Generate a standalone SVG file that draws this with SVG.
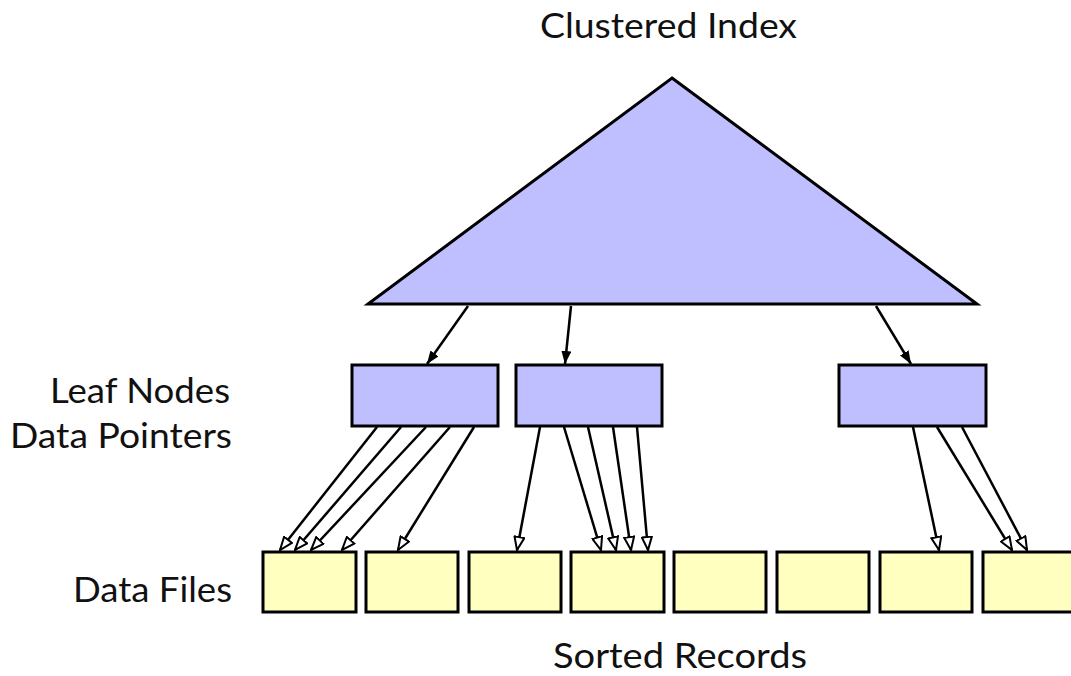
<svg xmlns="http://www.w3.org/2000/svg" width="1071" height="676" viewBox="0 0 1071 676">
  <style>
    .lbl { font-family: Lato, "Open Sans", "Liberation Sans", sans-serif; font-size: 34px; fill: #111; }
    .idx { fill: #bfbfff; stroke: #000; stroke-width: 3; stroke-linejoin: miter; }
    .leaf { fill: #bfbfff; stroke: #000; stroke-width: 3; }
    .data { fill: #ffffc0; stroke: #000; stroke-width: 3; }
    .ptr { stroke: #000; stroke-width: 2.5; fill: none; }
    .ptr-solid { marker-end: url(#solidHead); }
    .ptr-open { marker-end: url(#openHead); }
  </style>
  <defs>
    <marker id="solidHead" viewBox="0 0 13 10" refX="13" refY="5" markerWidth="13" markerHeight="10" markerUnits="userSpaceOnUse" orient="auto">
      <path d="M0,0 L13,5 L0,10 Z" fill="#000"/>
    </marker>
    <marker id="openHead" viewBox="0 0 15 12" refX="14" refY="6" markerWidth="15" markerHeight="12" markerUnits="userSpaceOnUse" orient="auto">
      <path d="M1,1 L14,6 L1,11 Z" fill="#fff" stroke="#000" stroke-width="2" stroke-linejoin="miter"/>
    </marker>
  </defs>

  <rect width="1071" height="676" fill="#fff"/>

  <!-- labels -->
  <text class="lbl" x="540" y="38" textLength="257" lengthAdjust="spacingAndGlyphs">Clustered Index</text>
  <text class="lbl" x="50" y="403" textLength="180" lengthAdjust="spacingAndGlyphs">Leaf Nodes</text>
  <text class="lbl" x="10" y="448" textLength="222" lengthAdjust="spacingAndGlyphs">Data Pointers</text>
  <text class="lbl" x="73" y="602" textLength="159" lengthAdjust="spacingAndGlyphs">Data Files</text>
  <text class="lbl" x="553" y="668" textLength="254" lengthAdjust="spacingAndGlyphs">Sorted Records</text>

  <!-- index tree -->
  <g id="clustered-index">
    <polygon class="idx" points="672,78 977,304 368,304"/>
  </g>

  <!-- leaf nodes -->
  <g id="leaf-1"><rect class="leaf" x="352" y="365" width="146" height="61"/></g>
  <g id="leaf-2"><rect class="leaf" x="516" y="365" width="146" height="61"/></g>
  <g id="leaf-3"><rect class="leaf" x="839" y="365" width="147" height="61"/></g>

  <!-- data files -->
  <g id="file-1"><rect class="data" x="263" y="552" width="93" height="60"/></g>
  <g id="file-2"><rect class="data" x="366" y="552" width="92" height="60"/></g>
  <g id="file-3"><rect class="data" x="469" y="552" width="92" height="60"/></g>
  <g id="file-4"><rect class="data" x="571" y="552" width="93" height="60"/></g>
  <g id="file-5"><rect class="data" x="674" y="552" width="92" height="60"/></g>
  <g id="file-6"><rect class="data" x="777" y="552" width="92" height="60"/></g>
  <g id="file-7"><rect class="data" x="880" y="552" width="92" height="60"/></g>
  <g id="file-8"><rect class="data" x="983" y="552" width="93" height="60"/></g>

  <!-- connectors -->
  <g id="connectors">
    <!-- index to leaves -->
    <line class="ptr ptr-solid" x1="468" y1="306" x2="427" y2="364"/>
    <line class="ptr ptr-solid" x1="571" y1="306" x2="565" y2="364"/>
    <line class="ptr ptr-solid" x1="876" y1="306" x2="911" y2="364"/>

    <!-- leaf 1 pointers -->
    <line class="ptr ptr-open" x1="377" y1="427" x2="280" y2="550"/>
    <line class="ptr ptr-open" x1="401" y1="427" x2="295" y2="550"/>
    <line class="ptr ptr-open" x1="426" y1="427" x2="311" y2="550"/>
    <line class="ptr ptr-open" x1="450" y1="427" x2="342" y2="550"/>
    <line class="ptr ptr-open" x1="474" y1="427" x2="398" y2="550"/>

    <!-- leaf 2 pointers -->
    <line class="ptr ptr-open" x1="540" y1="427" x2="517" y2="550"/>
    <line class="ptr ptr-open" x1="564" y1="427" x2="601" y2="550"/>
    <line class="ptr ptr-open" x1="588" y1="427" x2="616" y2="550"/>
    <line class="ptr ptr-open" x1="613" y1="427" x2="631" y2="550"/>
    <line class="ptr ptr-open" x1="637" y1="427" x2="648" y2="550"/>

    <!-- leaf 3 pointers -->
    <line class="ptr ptr-open" x1="913" y1="427" x2="939" y2="550"/>
    <line class="ptr ptr-open" x1="937" y1="427" x2="1012" y2="550"/>
    <line class="ptr ptr-open" x1="962" y1="427" x2="1027" y2="550"/>
  </g>
</svg>
